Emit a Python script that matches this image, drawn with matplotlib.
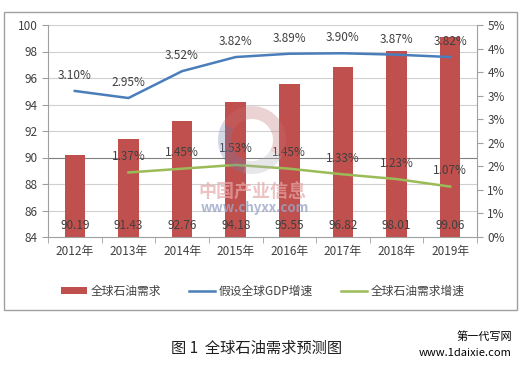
import matplotlib
matplotlib.use('Agg')
from matplotlib import pyplot as plt
from matplotlib.patches import Rectangle, Wedge
from matplotlib.transforms import IdentityTransform
from matplotlib.ticker import FuncFormatter
import numpy as np

plt.rcParams['font.family'] = ['Noto Sans CJK SC', 'DejaVu Sans']

years = ['2012年', '2013年', '2014年', '2015年', '2016年', '2017年', '2018年', '2019年']
demand = [90.19, 91.43, 92.76, 94.18, 95.55, 96.82, 98.01, 99.06]
gdp_growth = [3.10, 2.95, 3.52, 3.82, 3.89, 3.90, 3.87, 3.82]
demand_growth = [None, 1.37, 1.45, 1.53, 1.45, 1.33, 1.23, 1.07]

red = '#C0504D'
blue = '#4A7EBB'
green = '#9BBB59'
txt = '#404040'

fig = plt.figure(figsize=(5.26, 3.67), dpi=100)
ax = fig.add_axes([48 / 526, 1 - 237 / 367, 429 / 526, 212 / 367])
x = np.arange(len(years))

bars = ax.bar(x, [d - 84 for d in demand], bottom=84, width=0.38, color=red, zorder=2,
              label='全球石油需求')
ax.set_ylim(84, 100)
ax.set_xlim(-0.5, 7.5)
ax.set_yticks(np.arange(84, 101, 2))
ax.set_xticks(x)
ax.set_xticklabels(years, fontsize=8.5, color=txt)
ax.set_xticks(np.arange(-0.5, 8, 1), minor=True)
ax.tick_params(axis='x', which='major', length=0, pad=6)
ax.tick_params(axis='x', which='minor', length=4, color='#a0a0a0')
ax.tick_params(axis='y', labelsize=8.5, labelcolor=txt, length=4, color='#a0a0a0')
for yv in np.arange(86, 101, 2):
    ax.axhline(yv, color='#808080' if yv == 90 else '#d0d0d0', lw=0.8, zorder=1)
for s in ['top', 'right']:
    ax.spines[s].set_visible(False)
ax.spines['left'].set_color('#a0a0a0')
ax.spines['bottom'].set_color('#a0a0a0')

for xi, d in zip(x, demand):
    ax.text(xi, 84.9, f'{d:.2f}', ha='center', va='center', fontsize=8.5, color=txt, zorder=4)

ax2 = ax.twinx()
ax2.set_ylim(0, 4.5)
ax2.set_yticks(np.arange(0, 4.6, 0.5))
ax2.yaxis.set_major_formatter(FuncFormatter(lambda v, p: f'{int(np.floor(v + 0.5))}%'))
ax2.tick_params(axis='y', labelsize=8.5, labelcolor=txt, length=4, color='#a0a0a0')
for s in ['top', 'left', 'bottom']:
    ax2.spines[s].set_visible(False)
ax2.spines['right'].set_color('#a0a0a0')

ax2.plot(x, gdp_growth, color=blue, lw=1.8, label='假设全球GDP增速', zorder=3)
gx = [xi for xi, v in zip(x, demand_growth) if v is not None]
gv = [v for v in demand_growth if v is not None]
ax2.plot(gx, gv, color=green, lw=1.8, label='全球石油需求增速', zorder=3)

for xi, v in zip(x, gdp_growth):
    ax2.annotate(f'{v:.2f}%', (xi, v), xytext=(0, 11), textcoords='offset points',
                 ha='center', va='center', fontsize=8.5, color=txt)
for xi, v in zip(gx, gv):
    ax2.annotate(f'{v:.2f}%', (xi, v), xytext=(0, 11.5), textcoords='offset points',
                 ha='center', va='center', fontsize=8.5, color=txt)

# faint watermark (logo ring + text) over the plot
for t1, t2, c in [(-30, 150, '#c07070'), (150, 255, '#7080b0'), (255, 330, '#b0b0bc')]:
    fig.patches.append(Wedge((252, 367 - 140), 34, t1, t2, width=13, transform=IdentityTransform(),
                             facecolor=c, edgecolor='none', alpha=0.3, zorder=5))
fig.text(252 / 526, 1 - 192 / 367, '中国产业信息', ha='center', va='center', fontsize=13,
         color='#e6a8a8', alpha=0.7, fontweight='bold', zorder=5)
fig.text(255 / 526, 1 - 208 / 367, 'www.chyxx.com', ha='center', va='center', fontsize=9.5,
         color='#9aa6c8', alpha=0.8, fontweight='bold', zorder=5)

h1, l1 = ax.get_legend_handles_labels()
h2, l2 = ax2.get_legend_handles_labels()
fig.legend(h1 + h2, l1 + l2, loc='center', bbox_to_anchor=(263 / 526, 1 - 291 / 367), ncol=3,
           frameon=False, fontsize=8.5, handlelength=2.2, handleheight=0.5, columnspacing=2.4,
           handletextpad=0.3, labelcolor=txt)

fig.patches.append(Rectangle((4 / 526, 1 - 310 / 367), 513 / 526, 298 / 367,
                             transform=fig.transFigure, fill=False, edgecolor='#a0a0a0', lw=1))

fig.text(257 / 526, 1 - 348 / 367, '图 1  全球石油需求预测图', ha='center', va='center',
         fontsize=11, color='#202020')
fig.text(512 / 526, 1 - 337 / 367, '第一代写网', ha='right', va='center', fontsize=8, color='black')
fig.text(512 / 526, 1 - 353 / 367, 'www.1daixie.com', ha='right', va='center', fontsize=8, color='black')

fig.savefig('out.png', dpi=100)
